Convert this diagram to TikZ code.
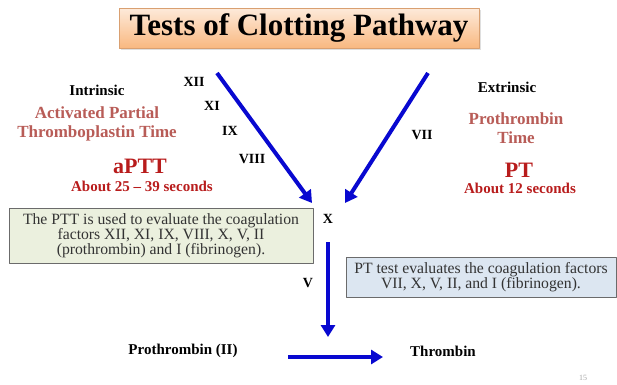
\documentclass[tikz,border=0pt]{standalone}
\usepackage{fontspec}
\setmainfont{Liberation Serif}
\usetikzlibrary{arrows.meta,shadows}
\definecolor{flowblue}{HTML}{0808D0}
\definecolor{testred}{HTML}{B85C57}
\definecolor{darkred}{HTML}{B81C1C}
\definecolor{titletop}{HTML}{FDEADA}
\definecolor{titlebot}{HTML}{F9B880}
\definecolor{titleline}{HTML}{D9A071}
\definecolor{boxgreen}{HTML}{EBF0DE}
\definecolor{boxblue}{HTML}{DCE6F1}
\definecolor{boxline}{HTML}{6B6B6B}
\definecolor{txtgray}{HTML}{333333}
\tikzset{
  every picture/.style={x=1pt, y=-1pt, line join=round, >=Stealth},
  titlebox/.style={minimum width=360pt, minimum height=40pt, inner sep=0pt,
    top color=titletop, bottom color=titlebot, draw=titleline, line width=0.6pt,
    drop shadow={opacity=0.25, shadow xshift=1.5pt, shadow yshift=-1.5pt},
    font=\fontsize{31}{31}\selectfont\bfseries},
  factor/.style={inner sep=0pt, font=\fontsize{14}{16}\selectfont\bfseries},
  label/.style={inner sep=0pt, align=center, font=\fontsize{15}{17}\selectfont\bfseries},
  testname/.style={inner sep=0pt, align=center, text=testred, font=\fontsize{17}{18.5}\selectfont\bfseries},
  abbrev/.style={inner sep=0pt, text=darkred, font=\fontsize{22}{22}\selectfont\bfseries},
  timing/.style={inner sep=0pt, text=darkred, font=\fontsize{15}{15}\selectfont\bfseries},
  infobox/.style={draw=boxline, line width=0.8pt, inner sep=0pt, align=center,
    text=txtgray, font=\fontsize{15.7}{15.2}\selectfont},
  flow/.style={draw=flowblue, line width=4pt, -{Triangle[length=12pt, width=14pt]}},
}
\begin{document}
\begin{tikzpicture}
\useasboundingbox (0,0) rectangle (617,384);
% title
\node[titlebox] (title) at (299,28) {Tests of Clotting Pathway};
% intrinsic side
\node[label] (intr) at (97,90) {Intrinsic};
\node[testname] (aptname) at (97,124) {Activated Partial\\Thromboplastin Time};
\node[abbrev] (aptt) at (140,166) {aPTT};
\node[timing] (aptttime) at (142,186) {About 25 -- 39 seconds};
% extrinsic side
\node[label] (extr) at (507,87) {Extrinsic};
\node[testname, font=\fontsize{17}{19}\selectfont\bfseries] (ptname) at (516,128) {Prothrombin\\Time};
\node[abbrev] (pt) at (519,170) {PT};
\node[timing] (pttime) at (520,188) {About 12 seconds};
% factors
\node[factor] (f12) at (194,82) {XII};
\node[factor] (f11) at (212,106) {XI};
\node[factor] (f9) at (230,131) {IX};
\node[factor] (f8) at (252,159) {VIII};
\node[factor] (f7) at (422,135) {VII};
\node[factor] (f10) at (328,219) {X};
\node[factor] (f5) at (308,283) {V};
% info boxes
\node[infobox, fill=boxgreen, minimum width=304pt, minimum height=55pt] (pttbox) at (161,236)
  {The PTT is used to evaluate the coagulation\\factors XII, XI, IX, VIII, X, V, II\\(prothrombin) and I (fibrinogen).};
\node[infobox, fill=boxblue, minimum width=270pt, minimum height=40pt] (ptbox) at (481,277)
  {PT test evaluates the coagulation factors\\VII, X, V, II, and I (fibrinogen).};
% products
\node[label] (prothr) at (183,351) {Prothrombin (II)};
\node[label] (thr) at (443,351) {Thrombin};
\node[inner sep=0pt, text=black!35, font=\fontsize{8}{8}\selectfont] (page) at (583,378) {15};
% arrows
\coordinate (intrA) at (217,73);
\coordinate (intrB) at (312,203);
\coordinate (extrA) at (428,73);
\coordinate (extrB) at (345,203);
\coordinate (downA) at (328,242);
\coordinate (downB) at (328,337);
\coordinate (convA) at (288,357);
\coordinate (convB) at (383,357);
\draw[flow] (intrA) -- (intrB);
\draw[flow] (extrA) -- (extrB);
\draw[flow] (downA) -- (downB);
\draw[flow] (convA) -- (convB);
\end{tikzpicture}
\end{document}
